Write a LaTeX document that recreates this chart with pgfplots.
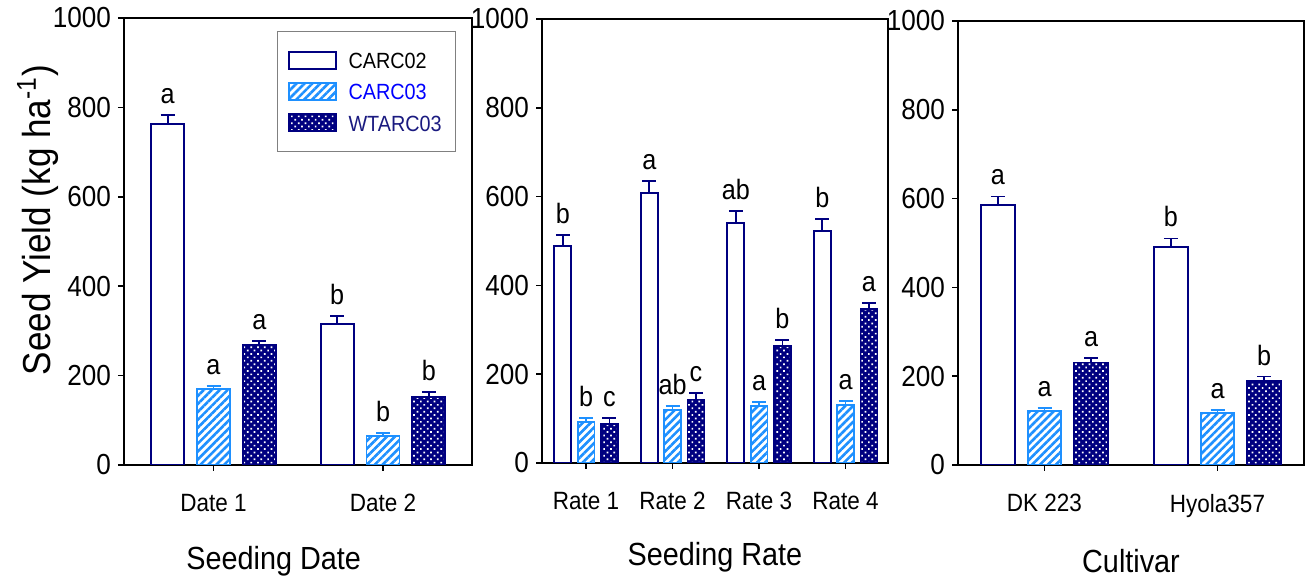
\documentclass[border=0pt]{standalone}
\usepackage{fontspec}
\setmainfont{Liberation Sans}[FakeStretch=0.9]
\usepackage{pgfplots}
\pgfplotsset{compat=1.18}
\usepackage{pgfplotstable}
\usetikzlibrary{patterns,patterns.meta}
\definecolor{navyb}{RGB}{0,0,128}
\definecolor{lblue}{RGB}{30,144,255}
\definecolor{txtblue}{RGB}{0,0,255}
\definecolor{txtnavy}{RGB}{26,26,128}

\pgfplotstableread{
x y1 e1 l1 y2 e2 l2 y3 e3 l3
0 763 20 a 170 7 a 268 9 a
1 315 18 b 64 8 b 152 11 b
}\dA
\pgfplotstableread{
x y1 e1 l1 y2 e2 l2 y3 e3 l3
0 488 26 b 92 10 b 88 13 c
1 608 27 a 119 9 ab 143 14 c
2 541 27 ab 128 9 a 263 14 b
3 522 27 b 130 10 a 347 13 a
}\dB
\pgfplotstableread{
x y1 e1 l1 y2 e2 l2 y3 e3 l3
0 586 19 a 121 7 a 231 10 a
1 491 19 b 117 7 a 190 9 b
}\dC

\pgfplotsset{
  panel/.style={
    scale only axis, anchor=south west,
    ymin=0, ymax=1000, ytick={0,200,...,1000},
    scaled y ticks=false,
    /pgf/number format/assume math mode=true,
    /pgf/number format/1000 sep={},
    axis line style={line width=1pt, black},
    tick style={line width=0.8pt, black},
    tick align=outside, tick pos=left, major tick length=3pt,
    yticklabel style={font=\fontsize{14.5}{16}\selectfont},
    xticklabel style={font=\fontsize{12.5}{14}\selectfont, yshift=-8pt},
    every axis x label/.style={at={(axis description cs:0.5,0)}, anchor=center, yshift=-48pt, font=\fontsize{16}{18}\selectfont},
    every axis y label/.style={at={(axis description cs:-0.247,0.548)}, rotate=90, anchor=center, font=\fontsize{19.5}{22}\selectfont},
  },
  bA/.style={ybar, bar width=0.195, bar shift=0pt, draw=navyb, fill=white, line width=0.9pt,
    error bars/.cd, y dir=plus, y explicit,
    error bar style={draw=navyb, line width=0.8pt},
    error mark options={rotate=90, draw=navyb, mark size=3.5pt, line width=0.8pt}},
  bB/.style={ybar, bar width=0.195, bar shift=0pt, draw=lblue, line width=0.9pt,
    pattern={Lines[angle=45,distance=2.8pt,line width=1.3pt]}, pattern color=lblue,
    error bars/.cd, y dir=plus, y explicit,
    error bar style={draw=lblue, line width=0.8pt},
    error mark options={rotate=90, draw=lblue, mark size=3.5pt, line width=0.8pt}},
  bC/.style={ybar, bar width=0.195, bar shift=0pt, draw=navyb, fill=navyb, line width=0.9pt,
    postaction={pattern={Dots[angle=45,distance=2.4pt,radius=0.6pt]}, pattern color=white},
    error bars/.cd, y dir=plus, y explicit,
    error bar style={draw=navyb, line width=0.8pt},
    error mark options={rotate=90, draw=navyb, mark size=3.5pt, line width=0.8pt}},
  lab/.style={draw=none, mark=none, forget plot, nodes near coords, point meta=explicit symbolic,
    every node near coord/.style={font=\fontsize{14}{16}\selectfont, anchor=base, yshift=5.8pt, text=black, inner sep=0pt}},
}

\begin{document}
\begin{tikzpicture}
\path[use as bounding box] (0,0) rectangle (656pt,289pt);

% Panel 1
\begin{axis}[panel, at={(62pt,56.5pt)}, width=174pt, height=223.5pt,
  xmin=-0.528, xmax=1.525, xtick={0,1}, xticklabels={Date 1, Date 2},
  xlabel={Seeding Date}, xlabel style={at={(axis description cs:0.43,0)}},
  ylabel={Seed Yield (kg ha\textsuperscript{-1})},
  legend style={at={(0.44,0.971)}, anchor=north west, draw=gray, line width=0.6pt,
    inner xsep=5pt, inner ysep=8pt, row sep=3pt, column sep=4pt,
    font=\fontsize{11}{13}\selectfont, cells={anchor=west},
    nodes={inner sep=2pt, text height=8.6pt, text depth=0pt}},
  legend image code/.code={\draw[#1] (0pt,-4.25pt) rectangle (23.5pt,4.25pt);},
]
\addplot[bA] table[x expr=\thisrow{x}-0.27, y=y1, y error=e1] {\dA};
\addplot[bB] table[x=x, y=y2, y error=e2] {\dA};
\addplot[bC] table[x expr=\thisrow{x}+0.27, y=y3, y error=e3] {\dA};
\addplot[lab] table[x expr=\thisrow{x}-0.27, y expr=\thisrow{y1}+\thisrow{e1}, meta=l1] {\dA};
\addplot[lab] table[x expr=\thisrow{x}, y expr=\thisrow{y2}+\thisrow{e2}, meta=l2] {\dA};
\addplot[lab] table[x expr=\thisrow{x}+0.27, y expr=\thisrow{y3}+\thisrow{e3}, meta=l3] {\dA};
\legend{CARC02,\textcolor{txtblue}{CARC03},\textcolor{txtnavy}{WTARC03}}
\end{axis}

% Panel 2
\begin{axis}[panel, at={(271pt,57.5pt)}, width=173pt, height=222pt,
  xmin=-0.51, xmax=3.49, xtick={0,1,2,3}, xticklabels={Rate 1, Rate 2, Rate 3, Rate 4},
  xlabel={Seeding Rate}, xlabel style={yshift=1pt}]
\addplot[bA] table[x expr=\thisrow{x}-0.27, y=y1, y error=e1] {\dB};
\addplot[bB] table[x=x, y=y2, y error=e2] {\dB};
\addplot[bC] table[x expr=\thisrow{x}+0.27, y=y3, y error=e3] {\dB};
\addplot[lab] table[x expr=\thisrow{x}-0.27, y expr=\thisrow{y1}+\thisrow{e1}, meta=l1] {\dB};
\addplot[lab] table[x expr=\thisrow{x}, y expr=\thisrow{y2}+\thisrow{e2}, meta=l2] {\dB};
\addplot[lab] table[x expr=\thisrow{x}+0.27, y expr=\thisrow{y3}+\thisrow{e3}, meta=l3] {\dB};
\end{axis}

% Panel 3
\begin{axis}[panel, at={(479pt,56.5pt)}, width=173pt, height=222pt,
  xmin=-0.50, xmax=1.50, xtick={0,1}, xticklabels={DK 223, Hyola357},
  xlabel={Cultivar}]
\addplot[bA] table[x expr=\thisrow{x}-0.27, y=y1, y error=e1] {\dC};
\addplot[bB] table[x=x, y=y2, y error=e2] {\dC};
\addplot[bC] table[x expr=\thisrow{x}+0.27, y=y3, y error=e3] {\dC};
\addplot[lab] table[x expr=\thisrow{x}-0.27, y expr=\thisrow{y1}+\thisrow{e1}, meta=l1] {\dC};
\addplot[lab] table[x expr=\thisrow{x}, y expr=\thisrow{y2}+\thisrow{e2}, meta=l2] {\dC};
\addplot[lab] table[x expr=\thisrow{x}+0.27, y expr=\thisrow{y3}+\thisrow{e3}, meta=l3] {\dC};
\end{axis}
\end{tikzpicture}
\end{document}
